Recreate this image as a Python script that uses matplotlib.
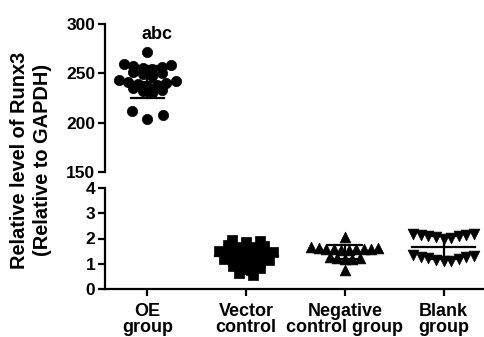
import numpy as np
import matplotlib
matplotlib.use("Agg")
import matplotlib.pyplot as plt

plt.rcParams['font.family'] = ['Liberation Sans', 'DejaVu Sans']
plt.rcParams['font.weight'] = 'bold'

categories = ["OE\ngroup", "Vector\ncontrol", "Negative\ncontrol group", "Blank\ngroup"]
oe_values = [272, 259, 258, 257, 256, 255, 254, 251, 250, 249, 247,
             243, 242, 241, 240, 239, 238, 237, 235, 233, 232, 230, 212, 204, 208]
vector_values = [1.95, 1.9, 1.85, 1.75, 1.7, 1.68, 1.65, 1.6, 1.5, 1.45, 1.42, 1.4,
                 1.38, 1.35, 1.3, 1.2, 1.15, 1.1, 1.08, 1.05, 1.0, 0.9, 0.85, 0.8,
                 0.75, 0.62, 0.55]
negative_values = [2.05, 1.56, 1.58, 1.6, 1.62, 1.55, 1.65, 1.57, 1.6, 1.59, 1.63,
                   1.2, 1.22, 1.25, 1.23, 1.2, 0.75]
blank_values = [2.18, 2.15, 2.1, 2.05, 2.0, 2.02, 2.08, 2.12, 2.16,
                1.1, 1.12, 1.15, 1.2, 1.22, 1.25, 1.28, 1.3, 1.33]
top_yticks = [150, 200, 250, 300]
bottom_yticks = [0, 1, 2, 3, 4]

W, H = 485, 337
fig = plt.figure(figsize=(W / 100, H / 100), dpi=100)
left = 105 / W
width = 380 / W
ax_top = fig.add_axes([left, 1 - 172 / H, width, (172 - 24) / H])
ax_bot = fig.add_axes([left, 1 - 289 / H, width, (289 - 188) / H])

xlim = (-0.43, 3.42)
for ax in (ax_top, ax_bot):
    ax.set_xlim(*xlim)
    for s in ('top', 'right'):
        ax.spines[s].set_visible(False)
    ax.spines['left'].set_linewidth(1.6)
    ax.tick_params(axis='y', width=1.6, length=5, labelsize=12.5, pad=2)

ax_top.set_ylim(150, 300)
ax_bot.set_ylim(0, 4)
ax_top.spines['bottom'].set_visible(False)
ax_top.set_xticks([])
ax_top.set_yticks(top_yticks)
ax_bot.set_yticks(bottom_yticks)
for ax in (ax_top, ax_bot):
    for lab in ax.get_yticklabels():
        lab.set_fontweight('bold')
ax_bot.spines['bottom'].set_linewidth(1.6)
ax_bot.set_xticks(range(4))
ax_bot.set_xticklabels(categories, fontsize=13, fontweight='bold', linespacing=0.95)
ax_bot.tick_params(axis='x', width=1.6, length=5, pad=5)


def row_layout(vals, bw, spacing_px, px_per_unit_x=99.0):
    """GraphPad-like column scatter: bin values into rows, spread each row
    horizontally, lowest values placed at the centre of the row."""
    vals = np.asarray(vals, dtype=float)
    bins = np.round(vals / bw).astype(int)
    offs = np.zeros(len(vals))
    for b in np.unique(bins):
        idx = np.where(bins == b)[0]
        idx = idx[np.argsort(vals[idx])]
        n = len(idx)
        sp = spacing_px if n > 3 else spacing_px * 1.6
        slots = (np.arange(n) - (n - 1) / 2.0) * sp
        slots = slots[np.argsort(np.abs(slots) - 1e-6 * slots)]
        offs[idx] = slots / px_per_unit_x
    return offs


groups = [
    (ax_top, 0, oe_values, 'o', 8.0, 9.5, 55),
    (ax_bot, 1, vector_values, 's', 0.28, 9.0, 62),
    (ax_bot, 2, negative_values, '^', 0.28, 7.5, 60),
    (ax_bot, 3, blank_values, 'v', 0.4, 7.6, 60),
]
for ax, xi, vals, m, bw, sp, sz in groups:
    vals = np.array(vals, dtype=float)
    offs = row_layout(vals, bw, sp)
    ax.scatter(xi + offs, vals, marker=m, s=sz, color='black', zorder=3,
               edgecolors='black', linewidths=0.5, clip_on=False)
    mean = vals.mean()
    sd = vals.std(ddof=1)
    ax.plot([xi - 0.32, xi + 0.32], [mean, mean], color='black', lw=1.6, zorder=4)
    ax.plot([xi, xi], [mean - sd, mean + sd], color='black', lw=1.6, zorder=4)
    for v in (mean - sd, mean + sd):
        ax.plot([xi - 0.17, xi + 0.17], [v, v], color='black', lw=1.6, zorder=4)

ax_top.text(0.1, 281, "abc", ha='center', va='bottom', fontsize=13, fontweight='bold')

fig.text(20 / W, 1 - 160 / H, "Relative level of Runx3", rotation=90, ha='center',
         va='center', fontsize=14.4, fontweight='bold')
fig.text(43 / W, 1 - 160 / H, "(Relative to GAPDH)", rotation=90, ha='center',
         va='center', fontsize=14.4, fontweight='bold')

fig.savefig("out.png", dpi=100)
